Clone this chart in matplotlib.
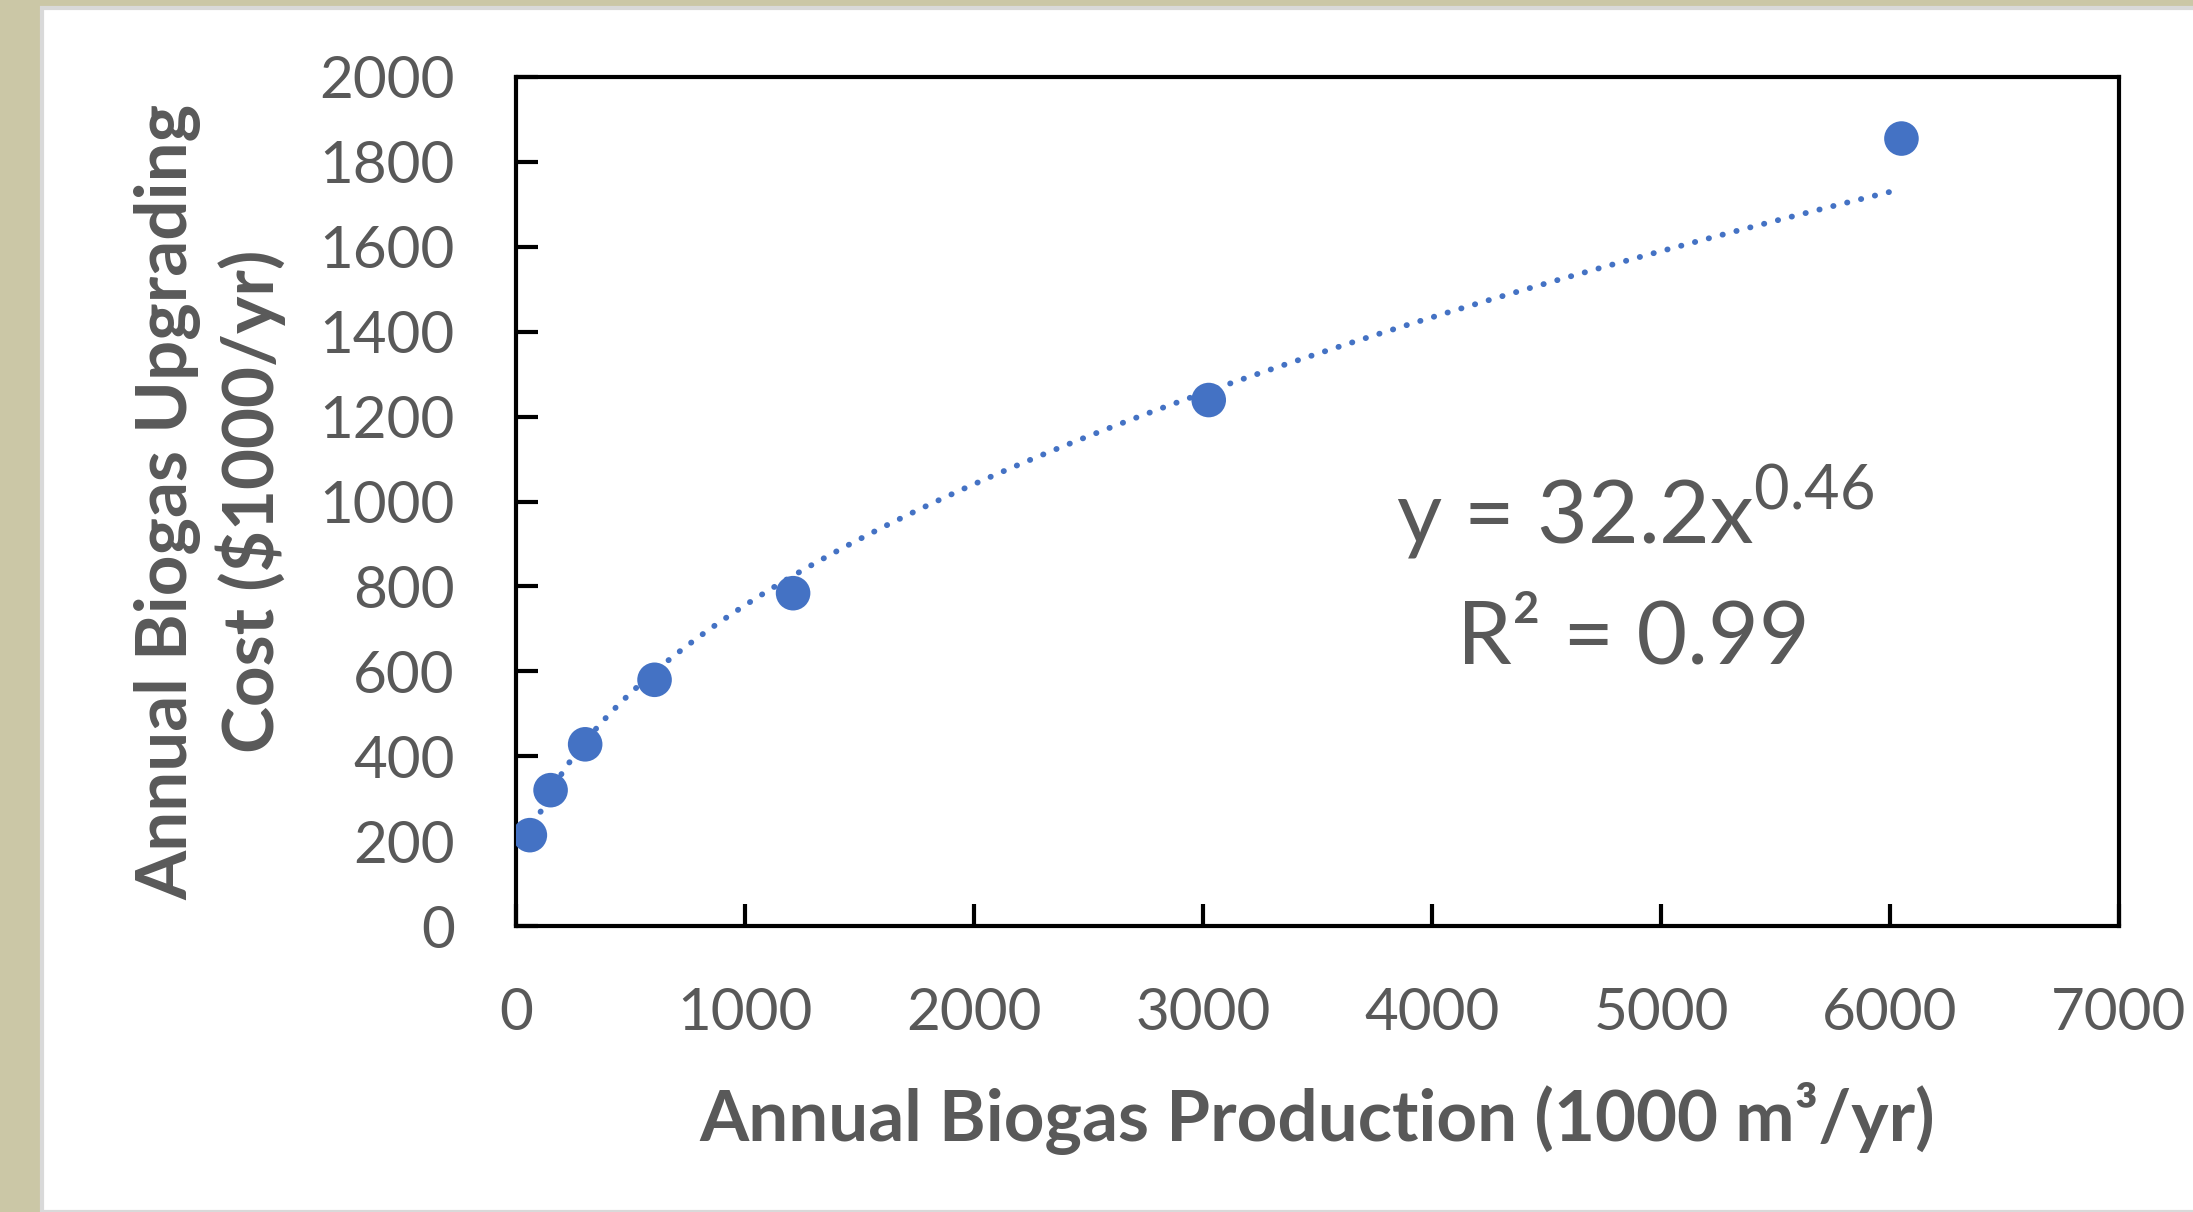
import numpy as np
import matplotlib.pyplot as plt
from matplotlib.patches import Rectangle

# data
production = [60.5, 151, 302, 605, 1210, 3025, 6050]      # 1000 m3/yr
cost = [214, 320, 428, 580, 784, 1239, 1855]              # $1000/yr
x_ticks = [0, 1000, 2000, 3000, 4000, 5000, 6000, 7000]
y_ticks = [0, 200, 400, 600, 800, 1000, 1200, 1400, 1600, 1800, 2000]
equation_text = r'y = 32.2x$^{0.46}$'
r2_text = 'R² = 0.99'

BLUE = '#4472C4'
GRAY = '#595959'

plt.rcParams['font.family'] = ['Lato', 'DejaVu Sans']
plt.rcParams['mathtext.fontset'] = 'custom'
plt.rcParams['mathtext.rm'] = 'Lato'

W, H = 2193, 1212
fig = plt.figure(figsize=(W / 100, H / 100), dpi=100)
fig.patch.set_facecolor('#CBC7A6')
fig.patches.append(Rectangle((42 / W, 0), 1, 1 - 8 / H, transform=fig.transFigure,
                             facecolor='white', edgecolor='#D9D9D9', linewidth=3, zorder=-10))

ax = fig.add_axes([516 / W, 1 - 926 / H, (2119 - 516) / W, (926 - 77) / H])
ax.set_zorder(5)
ax.patch.set_alpha(0)

# power trendline: least squares on the logs, like the spreadsheet does it
lx = np.log(production)
ly = np.log(cost)
b, ln_a = np.polyfit(lx, ly, 1)
xs = np.linspace(production[0], production[-1], 300)
ax.plot(xs, np.exp(ln_a) * xs ** b, color=BLUE, linewidth=4.2,
        linestyle=(0, (0.05, 2.4)), dash_capstyle='round', zorder=2)

ax.scatter(production, cost, s=620, color=BLUE, edgecolors='none', zorder=3)

ax.set_xlim(0, 7000)
ax.set_ylim(0, 2000)
ax.set_xticks(x_ticks)
ax.set_yticks(y_ticks)
ax.tick_params(axis='both', direction='in', length=16, width=3, labelsize=42,
               labelcolor=GRAY, color='black')
ax.tick_params(axis='x', pad=44)
ax.tick_params(axis='y', pad=44)
for s in ax.spines.values():
    s.set_linewidth(3)
    s.set_color('black')

ax.set_xlabel('Annual Biogas Production (1000 m³/yr)', fontsize=51, fontweight='bold',
              color=GRAY, labelpad=30)
ax.set_ylabel('Annual Biogas Upgrading\nCost ($1000/yr)', fontsize=51, fontweight='bold',
              color=GRAY, labelpad=24, linespacing=1.25)

ax.text(4887, 903, equation_text, fontsize=63, color=GRAY, ha='center', va='baseline')
ax.text(4880, 619, r2_text, fontsize=63, color=GRAY, ha='center', va='baseline')

fig.savefig('out.png', dpi=100)
